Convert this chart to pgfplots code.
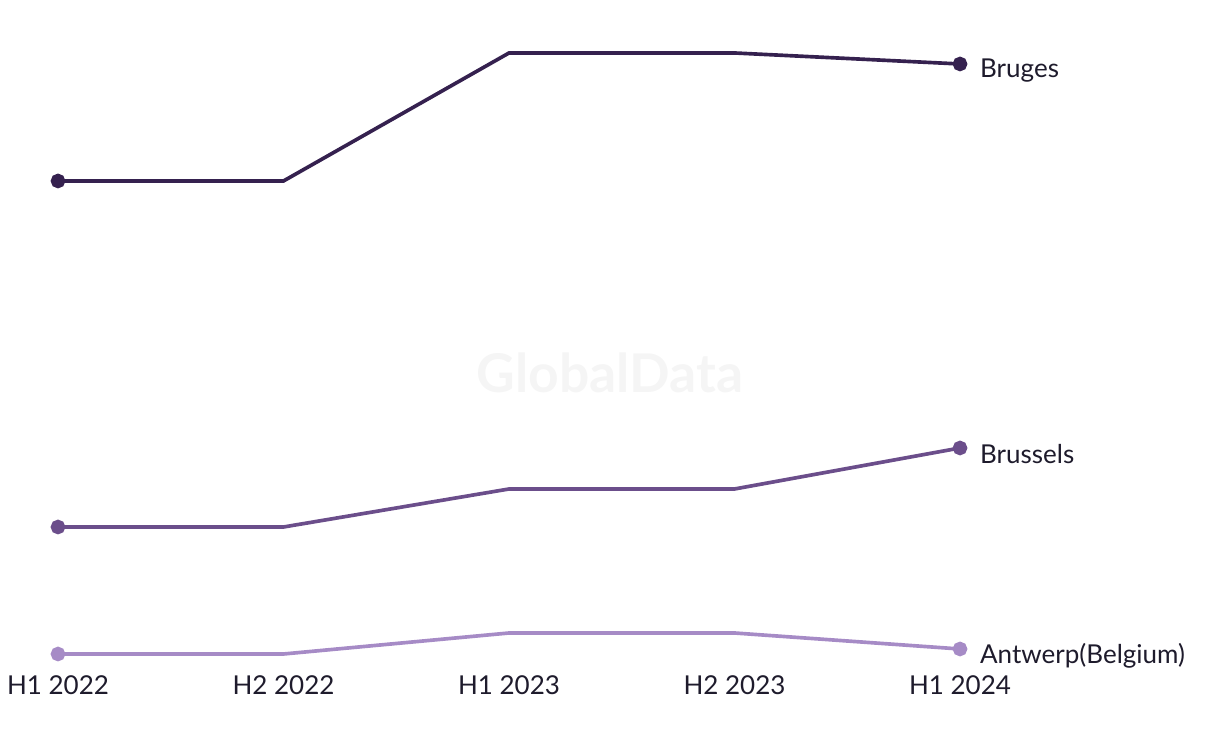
\documentclass[border=0pt]{standalone}
\usepackage{pgfplots}
\pgfplotsset{compat=1.18}
\usepackage{fontspec}
\setmainfont{Lato}
\definecolor{cBru}{HTML}{35214F}
\definecolor{cBrs}{HTML}{6B4E8B}
\definecolor{cAnt}{HTML}{A68BC6}
\definecolor{cTxt}{HTML}{1E1B2C}
\begin{document}
\begin{tikzpicture}[x=0.25mm,y=0.25mm]
% bounding box: image 1220x744 px; axis origin at pixel (58,654)
\path[use as bounding box] (-58,-90) rectangle (1162,654);
\node[text=black!4, font=\fontsize{38}{42}\selectfont\bfseries] at (552,281) {GlobalData};
\begin{axis}[
  scale only axis, width=225.5mm, height=150.25mm,
  at={(0,0)}, anchor=south west,
  xmin=0, xmax=4, ymin=46, ymax=647,
  clip=false,
  axis lines=left, axis line style={draw=none},
  major tick length=0pt, ytick=\empty,
  xtick={0,1,2,3,4},
  xticklabels={H1 2022,H2 2022,H1 2023,H2 2023,H1 2024},
  xticklabel style={font=\fontsize{18.5}{21}\selectfont, text=cTxt, yshift=-4.2mm},
  every axis plot/.append style={line width=2.6pt, mark=none},
]
\addplot[cBru] coordinates {(0,519) (1,519) (2,647) (3,647) (4,636)};
\addplot[cBrs] coordinates {(0,173) (1,173) (2,211) (3,211) (4,252)};
\addplot[cAnt] coordinates {(0,46) (1,46) (2,67) (3,67) (4,51)};
\addplot[cBru, only marks, mark=*, mark size=3.9pt] coordinates {(0,519) (4,636)};
\addplot[cBrs, only marks, mark=*, mark size=3.9pt] coordinates {(0,173) (4,252)};
\addplot[cAnt, only marks, mark=*, mark size=3.9pt] coordinates {(0,46) (4,51)};
\node[anchor=west, text=cTxt, font=\fontsize{18.5}{21}\selectfont, xshift=3.8mm, yshift=-1.6mm] at (axis cs:4,636) {Bruges};
\node[anchor=west, text=cTxt, font=\fontsize{18.5}{21}\selectfont, xshift=3.8mm, yshift=-1.6mm] at (axis cs:4,252) {Brussels};
\node[anchor=west, text=cTxt, font=\fontsize{18.5}{21}\selectfont, xshift=3.8mm, yshift=-1.6mm] at (axis cs:4,51) {Antwerp(Belgium)};
\end{axis}
\end{tikzpicture}
\end{document}
